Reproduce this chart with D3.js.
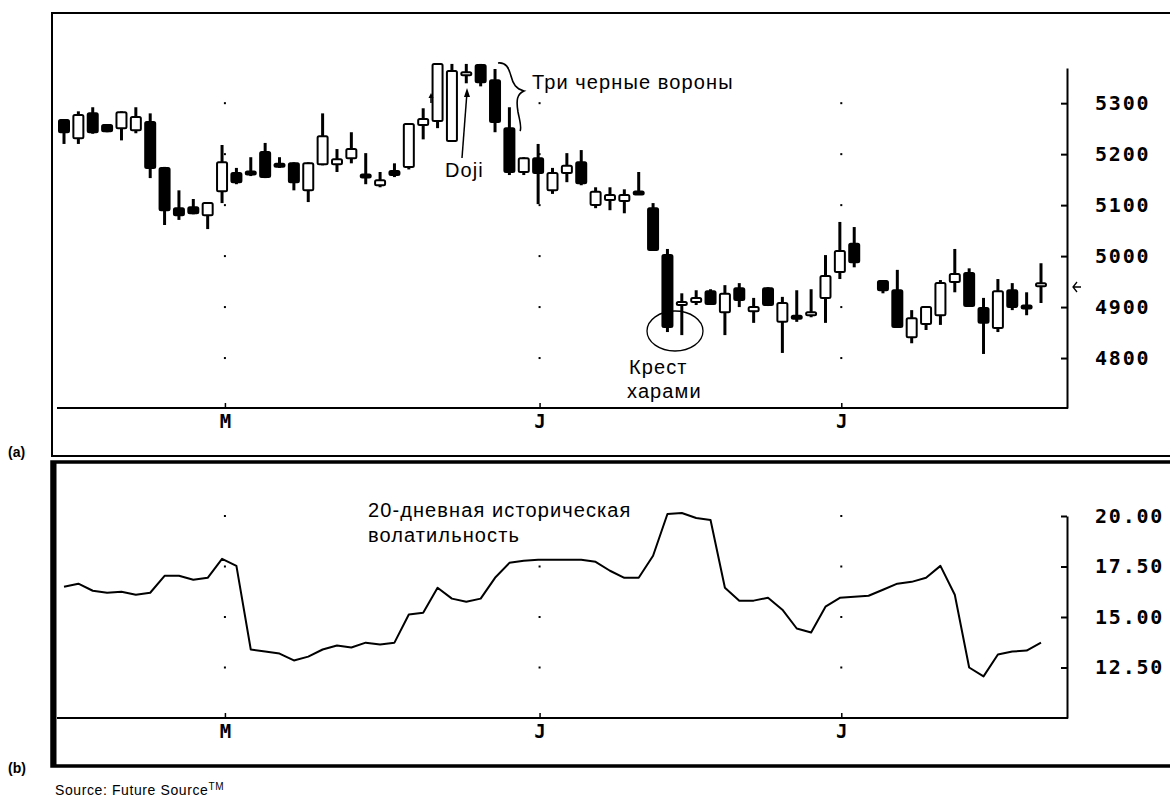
<!DOCTYPE html>
<html>
<head>
<meta charset="utf-8">
<script src="https://cdn.jsdelivr.net/npm/d3@7"></script>
<style>
  html, body { margin: 0; padding: 0; background: #fff; }
  svg { display: block; }
</style>
</head>
<body>
<svg id="chart" width="1170" height="801"></svg>
<script>
// ---------- DATA ----------
// trading-day index of each candle (day 56 is a holiday gap)
const days = [0,1,2,3,4,5,6,7,8,9,10,11,12,13,14,15,16,17,18,19,20,21,22,23,24,25,26,27,28,29,30,31,32,33,34,35,36,37,38,39,40,41,42,43,44,45,46,47,48,49,50,51,52,53,54,55,57,58,59,60,61,62,63,64,65,66,67,68];
const opens  = [5267,5231,5280,5257,5251,5247,5263,5173,5094,5096,5080,5127,5163,5165,5204,5180,5182,5129,5180,5180,5192,5159,5139,5167,5175,5257,5265,5226,5357,5375,5345,5251,5165,5192,5129,5163,5184,5100,5110,5108,5126,5094,5002,4906,4910,4931,4890,4937,4892,4937,4871,4882,4884,4918,4969,5024,4951,4933,4841,4867,4884,4949,4967,4898,4859,4933,4902,4943];
const highs  = [5267,5284,5292,5259,5284,5292,5280,5175,5129,5112,5104,5218,5173,5194,5222,5194,5184,5184,5280,5210,5243,5202,5165,5182,5259,5290,5377,5377,5377,5377,5367,5292,5194,5220,5173,5202,5208,5135,5135,5131,5165,5104,5014,4927,4933,4935,4943,4947,4918,4939,4920,4933,4935,5002,5067,5057,4951,4973,4894,4902,4953,5014,4976,4918,4955,4947,4929,4986];
const lows   = [5220,5220,5240,5243,5227,5241,5153,5061,5071,5082,5053,5104,5141,5157,5153,5173,5129,5106,5178,5165,5182,5141,5135,5155,5170,5229,5251,5226,5339,5333,5243,5159,5159,5102,5122,5145,5139,5094,5090,5084,5120,5012,4851,4845,4904,4906,4845,4900,4869,4902,4810,4871,4880,4869,4955,4978,4927,4861,4829,4855,4865,4929,4902,4808,4851,4894,4884,4908];
const closes = [5243,5277,5243,5245,5282,5273,5173,5090,5080,5084,5104,5184,5145,5161,5155,5176,5145,5182,5235,5190,5210,5155,5149,5159,5259,5269,5377,5363,5358,5341,5263,5165,5192,5163,5163,5177,5143,5126,5120,5120,5122,5012,4861,4908,4918,4906,4926,4914,4900,4904,4908,4878,4890,4961,5010,4988,4933,4861,4878,4900,4947,4965,4902,4869,4931,4900,4898,4945];

// 20-day historical volatility, one value per trading-day index 0..68
const volDays = d3.range(0, 69);
const volatility = [16.50,16.65,16.30,16.20,16.25,16.10,16.20,17.04,17.04,16.84,16.94,17.88,17.53,13.39,13.29,13.19,12.85,13.04,13.39,13.59,13.49,13.73,13.64,13.73,15.12,15.21,16.45,15.91,15.76,15.91,16.94,17.68,17.78,17.83,17.83,17.83,17.83,17.73,17.29,16.94,16.94,18.03,20.10,20.15,19.90,19.80,16.45,15.81,15.81,15.95,15.36,14.43,14.23,15.51,15.95,16.00,16.05,16.35,16.65,16.74,16.94,17.53,16.10,12.50,12.06,13.14,13.29,13.34,13.73];

const priceTicks = [4800, 4900, 5000, 5100, 5200, 5300];
const volTicks = [12.5, 15, 17.5, 20];
const monthTickDays = [11.2, 33.1, 54.1];
const monthLabels = ["M", "J", "J"];

// ---------- SETUP ----------
const svg = d3.select("#chart");
const numFont = "'DejaVu Sans Mono', monospace";
const txtFont = "'Liberation Sans', Arial, sans-serif";

const x = d3.scaleLinear().domain([0, 68]).range([64, 1041]);
const yA = d3.scaleLinear().domain([4702, 5369]).range([408, 68]);
const yB = d3.scaleLinear().domain([10, 20]).range([718, 516]);

const axisX = 1067, axisLeft = 57;

// ---------- FRAMES ----------
svg.append("path").attr("d", "M1170,13 H52 V456 H1170")
  .attr("fill", "none").attr("stroke", "#000").attr("stroke-width", 2);
svg.append("path").attr("d", "M1170,462 H52 V766 H1170")
  .attr("fill", "none").attr("stroke", "#000").attr("stroke-width", 3.5);
svg.append("line").attr("x1", 54).attr("x2", 54).attr("y1", 461).attr("y2", 767)
  .attr("stroke", "#000").attr("stroke-width", 5);

svg.append("text").attr("x", 8).attr("y", 457).text("(a)")
  .attr("font-family", txtFont).attr("font-size", 14).attr("font-weight", "bold");
svg.append("text").attr("x", 8).attr("y", 773).text("(b)")
  .attr("font-family", txtFont).attr("font-size", 14).attr("font-weight", "bold");
const src = svg.append("text").attr("x", 55).attr("y", 795)
  .attr("font-family", txtFont).attr("font-size", 14).attr("letter-spacing", 0.6);
src.append("tspan").text("Source:  Future Source");
src.append("tspan").attr("dy", -5).attr("font-size", 10).text("TM");

// ---------- GRID DOTS ----------
function gridDots(yScale, ticks) {
  monthTickDays.forEach(d => {
    ticks.forEach(t => {
      svg.append("rect").attr("x", x(d) - 1).attr("y", yScale(t) - 1)
        .attr("width", 2).attr("height", 2).attr("fill", "#000");
    });
  });
}
gridDots(yA, priceTicks);
gridDots(yB, volTicks);

// ---------- AXES ----------
function drawAxes(yScale, ticks, fmt, bottomY) {
  const gy = svg.append("g").attr("transform", `translate(${axisX},0)`)
    .call(d3.axisRight(yScale).tickValues(ticks).tickFormat(fmt)
      .tickSizeInner(-6).tickSizeOuter(0).tickPadding(28));
  gy.select(".domain").attr("stroke-width", 2);
  gy.selectAll(".tick line").attr("stroke-width", 2);
  gy.selectAll("text").attr("font-family", numFont).attr("font-weight", "bold")
    .attr("font-size", 20).attr("letter-spacing", 1.8);
  svg.append("line").attr("x1", axisLeft).attr("x2", axisX + 1)
    .attr("y1", bottomY).attr("y2", bottomY).attr("stroke", "#000").attr("stroke-width", 2);
  const gx = svg.append("g").attr("transform", `translate(0,${bottomY})`)
    .call(d3.axisBottom(x).tickValues(monthTickDays)
      .tickFormat((d, i) => monthLabels[i]).tickSizeInner(-5).tickSizeOuter(0).tickPadding(7));
  gx.select(".domain").remove();
  gx.selectAll(".tick line").attr("stroke-width", 1.5);
  gx.selectAll("text").attr("font-family", numFont).attr("font-weight", "bold").attr("font-size", 19);
}
drawAxes(yA, priceTicks, d3.format("d"), 408);
drawAxes(yB, volTicks, d3.format(".2f"), 718);

// ---------- CANDLES ----------
const candles = days.map((d, i) => ({ d, o: opens[i], h: highs[i], l: lows[i], c: closes[i] }));
const bw = 10;
const cg = svg.append("g");
cg.selectAll("line.wick").data(candles).join("line").attr("class", "wick")
  .attr("x1", c => x(c.d)).attr("x2", c => x(c.d))
  .attr("y1", c => yA(c.h)).attr("y2", c => yA(c.l))
  .attr("stroke", "#000").attr("stroke-width", 3);
cg.selectAll("rect.body").data(candles).join("rect").attr("class", "body")
  .attr("x", c => x(c.d) - bw / 2)
  .attr("y", c => {
    const top = yA(Math.max(c.o, c.c)), bot = yA(Math.min(c.o, c.c));
    return (bot - top < 3) ? (top + bot) / 2 - 1.5 : top;
  })
  .attr("width", bw)
  .attr("height", c => Math.max(3, yA(Math.min(c.o, c.c)) - yA(Math.max(c.o, c.c))))
  .attr("rx", 1.5)
  .attr("fill", c => c.c < c.o ? "#000" : "#fff")
  .attr("stroke", "#000").attr("stroke-width", 2);

// ---------- VOLATILITY LINE ----------
svg.append("path").datum(volDays.map((d, i) => [d, volatility[i]]))
  .attr("d", d3.line().x(p => x(p[0])).y(p => yB(p[1])))
  .attr("fill", "none").attr("stroke", "#000").attr("stroke-width", 2).attr("stroke-linejoin", "round");

// ---------- ANNOTATIONS ----------
const ann = (tx, ty, s) => svg.append("text").attr("x", tx).attr("y", ty).text(s)
  .attr("font-family", txtFont).attr("font-size", 20).attr("letter-spacing", 1.1).attr("fill", "#000");

ann(532, 89, "Три черные вороны");
svg.append("path")
  .attr("d", "M498,63 C506,62 509,68 511,76 C513,84 516,89 524,91 C517,94 516,100 518,112 C520,122 522,128 520,131")
  .attr("fill", "none").attr("stroke", "#000").attr("stroke-width", 1.6);

ann(445, 177, "Doji");
svg.append("line").attr("x1", 462).attr("y1", 158).attr("x2", 467).attr("y2", 92)
  .attr("stroke", "#000").attr("stroke-width", 1.5);
svg.append("path").attr("d", "M467,88 L464,97 L470,97 Z").attr("fill", "#000");
svg.append("line").attr("x1", 431).attr("y1", 103).attr("x2", 431).attr("y2", 96)
  .attr("stroke", "#000").attr("stroke-width", 1.5);
svg.append("path").attr("d", "M431,93 L428.5,98 L433.5,98 Z").attr("fill", "#000");

svg.append("ellipse").attr("cx", 675).attr("cy", 331).attr("rx", 28).attr("ry", 20)
  .attr("fill", "none").attr("stroke", "#000").attr("stroke-width", 1.3);
ann(629, 374, "Крест");
ann(627, 398, "харами");

ann(368, 517, "20-дневная историческая");
ann(368, 542, "волатильность");

svg.append("path").attr("d", "M1081,287 H1073 M1077,282 L1073,287 L1077,292")
  .attr("fill", "none").attr("stroke", "#000").attr("stroke-width", 1.3);
</script>
</body>
</html>
